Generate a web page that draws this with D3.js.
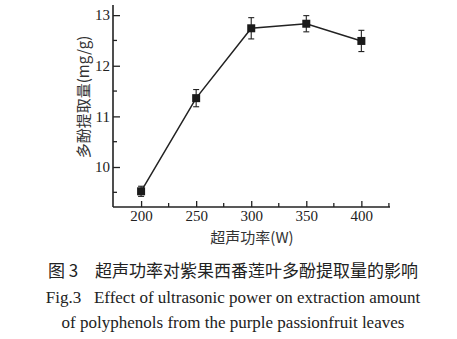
<!DOCTYPE html>
<html>
<head>
<meta charset="utf-8">
<script src="https://cdn.jsdelivr.net/npm/d3@7/dist/d3.min.js"></script>
<style>
  html, body { margin: 0; padding: 0; background: #fff; }
  svg { display: block; }
</style>
</head>
<body>
<svg id="chart" width="457" height="339"></svg>
<script>
// Ultrasonic power (W) vs polyphenol extraction amount (mg/g)
const powers = [200, 250, 300, 350, 400];
const amounts = [9.52, 11.36, 12.74, 12.83, 12.49];
const errors = [0.1, 0.17, 0.21, 0.16, 0.21];
const xTicks = [200, 250, 300, 350, 400];
const yTicks = [10, 11, 12, 13];
const yLabel = "多酚提取量(mg/g)";
const xLabel = "超声功率(W)";
const captionCn = "图 3\u3000超声功率对紫果西番莲叶多酚提取量的影响";
const captionEn1 = "Fig.3\u2002 Effect of ultrasonic power on extraction amount";
const captionEn2 = "of polyphenols from the purple passionfruit leaves";

const svg = d3.select("#chart");
const serif = "'Liberation Serif', 'DejaVu Serif', serif";
const cjk = "'Noto Sans CJK SC', sans-serif";
const ink = "#222";

const x = d3.scaleLinear().domain([174.5, 426]).range([113, 390]);
const y = d3.scaleLinear().domain([9.21, 13.2]).range([207, 5]);

// Axes with inward ticks (major + minor)
const g = svg.append("g");
const xMinor = d3.range(225, 426, 50);
const yMinor = d3.range(9.5, 13.2, 1);

g.append("line").attr("x1", x.range()[0]).attr("x2", x.range()[1])
  .attr("y1", y(9.21)).attr("y2", y(9.21)).attr("stroke", ink).attr("stroke-width", 1.6);
g.append("line").attr("x1", 113).attr("x2", 113)
  .attr("y1", y(9.21)).attr("y2", y(13.2)).attr("stroke", ink).attr("stroke-width", 1.6);

const xAxis = d3.axisBottom(x).tickValues(xTicks).tickFormat(d3.format("d"))
  .tickSizeInner(-6).tickSizeOuter(0).tickPadding(3);
const xa = g.append("g").attr("transform", `translate(0,${y(9.21)})`).call(xAxis);
xa.select(".domain").remove();
xa.selectAll(".tick line").attr("stroke", ink).attr("stroke-width", 1.3);
xa.selectAll(".tick text").attr("font-family", serif).attr("font-size", 15).attr("fill", ink);
xa.selectAll(".minor").data(xMinor).enter().append("line")
  .attr("x1", d => x(d)).attr("x2", d => x(d)).attr("y1", 0).attr("y2", -4)
  .attr("stroke", ink).attr("stroke-width", 1.3);

const yAxis = d3.axisLeft(y).tickValues(yTicks).tickFormat(d3.format("d"))
  .tickSizeInner(-7).tickSizeOuter(0).tickPadding(3);
const ya = g.append("g").attr("transform", "translate(113,0)").call(yAxis);
ya.select(".domain").remove();
ya.selectAll(".tick line").attr("stroke", ink).attr("stroke-width", 1.3);
ya.selectAll(".tick text").attr("font-family", serif).attr("font-size", 15).attr("fill", ink);
ya.selectAll(".minor").data(yMinor).enter().append("line")
  .attr("x1", 0).attr("x2", 4).attr("y1", d => y(d)).attr("y2", d => y(d))
  .attr("stroke", ink).attr("stroke-width", 1.3);

// Data line
const data = powers.map((p, i) => ({ p, v: amounts[i], e: errors[i] }));
svg.append("path").datum(data)
  .attr("d", d3.line().x(d => x(d.p)).y(d => y(d.v)))
  .attr("fill", "none").attr("stroke", ink).attr("stroke-width", 1.5);

// Error bars
const eb = svg.append("g").attr("stroke", ink).attr("stroke-width", 1.1);
data.forEach(d => {
  eb.append("line").attr("x1", x(d.p)).attr("x2", x(d.p)).attr("y1", y(d.v - d.e)).attr("y2", y(d.v + d.e));
  eb.append("line").attr("x1", x(d.p) - 3).attr("x2", x(d.p) + 3).attr("y1", y(d.v - d.e)).attr("y2", y(d.v - d.e));
  eb.append("line").attr("x1", x(d.p) - 3).attr("x2", x(d.p) + 3).attr("y1", y(d.v + d.e)).attr("y2", y(d.v + d.e));
});

// Square markers
svg.append("g").selectAll("rect").data(data).enter().append("rect")
  .attr("x", d => x(d.p) - 4).attr("y", d => y(d.v) - 4)
  .attr("width", 8).attr("height", 8).attr("fill", "#1a1a1a");

// Axis titles
svg.append("text").attr("transform", "translate(89,97) rotate(-90)")
  .attr("text-anchor", "middle").attr("font-family", cjk).attr("font-size", 15).attr("fill", "#333")
  .text(yLabel);
svg.append("text").attr("x", 252).attr("y", 243)
  .attr("text-anchor", "middle").attr("font-family", cjk).attr("font-size", 15).attr("fill", "#333")
  .text(xLabel);

// Caption
svg.append("text").attr("x", 233).attr("y", 277).attr("text-anchor", "middle")
  .attr("font-family", cjk).attr("font-size", 17).attr("fill", ink).text(captionCn);
svg.append("text").attr("x", 233).attr("y", 303).attr("text-anchor", "middle")
  .attr("font-family", serif).attr("font-size", 17).attr("fill", ink).text(captionEn1);
svg.append("text").attr("x", 233).attr("y", 328).attr("text-anchor", "middle")
  .attr("font-family", serif).attr("font-size", 17).attr("fill", ink).text(captionEn2);
</script>
</body>
</html>
